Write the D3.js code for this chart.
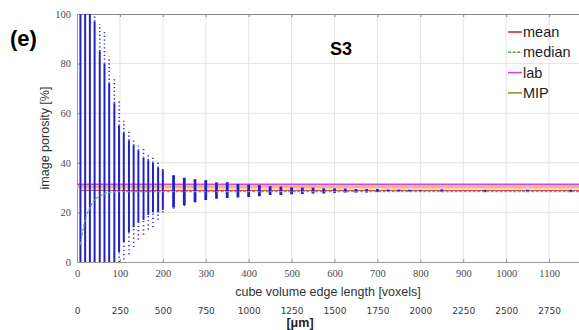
<!DOCTYPE html>
<html lang="en">
<head>
<meta charset="utf-8">
<title>S3 image porosity</title>
<script src="https://d3js.org/d3.v7.min.js"></script>
<style>
  body { margin: 0; background: #fff; }
  svg { display: block; }
</style>
</head>
<body>
<div id="mainDiv"></div>
<script type="text/javascript">
// cube edge sizes (voxels) and the spread of porosity values at each size
const sizes   = [8, 19, 30, 41, 53, 64, 75, 87, 98, 109, 121, 132, 143, 155, 166, 177, 189, 200,
                 225, 250, 275, 300, 325, 350, 375, 400, 425, 450, 475, 500, 525, 550, 575, 600,
                 625, 650, 675, 700, 725, 750, 775, 800, 850, 950, 1050, 1150]
const minVals = [0, 0, 0, 0, 0, 0, 0, 0, 0, 1, 3, 6, 9, 11, 13, 14, 17, 20,
                 21.5, 22.6, 24, 25, 25.5, 25.8, 26, 26.2, 26.5, 27, 27, 27.3, 27.4, 27.6, 27.6, 27.8,
                 28, 28, 28, 28.2, 28.4, 28.4, 28.4, 28.5, 28.6, 28.6, 28.6, 28.6]
const coreLo  = [0, 0, 0, 0, 0, 0, 0, 0, 4, 8, 12, 14, 16, 17, 19, 20, 20, 21,
                 22, 23, 24.2, 25, 25.5, 25.8, 26, 26.2, 26.5, 27, 27, 27.3, 27.4, 27.6, 27.6, 27.8,
                 28, 28, 28, 28.2, 28.4, 28.4, 28.4, 28.5, 28.6, 28.6, 28.6, 28.6]
const coreHi  = [100, 100, 100, 97, 85, 80, 72, 64, 55, 52, 49, 47, 45, 42, 41, 40, 38, 37,
                 35, 34, 33.4, 33, 32.1, 32.2, 31.5, 31.2, 31, 30.6, 30.4, 30.1, 30, 30, 29.7, 29.7,
                 29.6, 29.4, 29.4, 29.4, 29.2, 29.2, 29.1, 29, 28.9, 28.7, 28.7, 28.7]
const maxVals = [100, 100, 100, 100, 96, 93, 82, 74, 65, 57, 53, 50, 48, 46, 44, 42, 41, 38,
                 35, 34, 33.4, 33, 32.1, 32.2, 31.5, 31.2, 31, 30.6, 30.4, 30.1, 30, 30, 29.7, 29.7,
                 29.6, 29.4, 29.4, 29.4, 29.2, 29.2, 29.1, 29, 28.9, 28.7, 28.7, 28.7]

// median of the sub-cubes at each size (rises at small sizes)
const medianSizes = [8, 14, 19, 25, 30, 41, 53, 64, 75, 100, 200, 1172]
const medianVals  = [7, 13, 17, 20, 22, 25, 26.5, 27.5, 28, 28.4, 28.4, 28.4]
const meanVal = 28.9
const labVal  = 31.3
const mipVal  = 30.2

const xTicks  = [0, 100, 200, 300, 400, 500, 600, 700, 800, 900, 1000, 1100]
const umTicks = [0, 250, 500, 750, 1000, 1250, 1500, 1750, 2000, 2250, 2500, 2750]
const yTicks  = [0, 20, 40, 60, 80, 100]

const legendItems = [
    { name: 'mean',   color: '#e0282a', dash: null },
    { name: 'median', color: '#3fae3f', dash: '3,1.5' },
    { name: 'lab',    color: '#e040e0', dash: null },
    { name: 'MIP',    color: '#a88a22', dash: null }
]

const width = 579
const height = 330
const plot = { left: 77, right: 580, top: 14, bottom: 262 }

const svg = d3.select('#mainDiv').append('svg')
    .attr('width', width)
    .attr('height', height)

const xScale = d3.scaleLinear().domain([0, 1172]).range([plot.left, plot.right])
const umScale = d3.scaleLinear().domain([0, 1172 * 2.5]).range([plot.left, plot.right])
const yScale = d3.scaleLinear().domain([0, 100]).range([plot.bottom, plot.top])

// grid
const grid = svg.append('g')
grid.selectAll('.vg').data(xTicks.slice(1)).enter().append('line')
    .attr('x1', d => xScale(d)).attr('x2', d => xScale(d))
    .attr('y1', plot.top).attr('y2', plot.bottom)
    .attr('stroke', '#e4e4e4').attr('stroke-width', 1)
grid.selectAll('.hg').data(yTicks.slice(1, -1)).enter().append('line')
    .attr('x1', plot.left).attr('x2', plot.right)
    .attr('y1', d => yScale(d)).attr('y2', d => yScale(d))
    .attr('stroke', '#e4e4e4').attr('stroke-width', 1)

// axes
const fmt = d3.format('d')
const xAxis = d3.axisBottom(xScale).tickValues(xTicks).tickSize(-3).tickPadding(8).tickFormat(fmt)
const xTop = d3.axisTop(xScale).tickValues(xTicks).tickSize(-3).tickFormat('')
const yAxis = d3.axisLeft(yScale).tickValues(yTicks).tickSize(-3).tickPadding(6).tickFormat(fmt)
const umAxis = d3.axisBottom(umScale).tickValues(umTicks).tickSize(0).tickFormat(fmt)

function styleAxis(g, color) {
    g.select('.domain').attr('stroke', color)
    g.selectAll('.tick line').attr('stroke', color)
    g.selectAll('text')
        .attr('fill', '#4a4a4a')
        .style('font-family', '"Liberation Serif", "DejaVu Serif", serif')
        .style('font-size', '10.5px')
}

svg.append('g').attr('transform', `translate(0, ${plot.bottom})`).call(xAxis).call(g => styleAxis(g, '#999'))
svg.append('g').attr('transform', `translate(0, ${plot.top})`).call(xTop).call(g => styleAxis(g, '#8a8a8a'))
svg.append('g').attr('transform', `translate(${plot.left}, 0)`).call(yAxis).call(g => styleAxis(g, '#999'))

const umG = svg.append('g').attr('transform', `translate(0, 305)`).call(umAxis)
umG.select('.domain').remove()
umG.selectAll('text')
    .attr('fill', '#3a3a3a')
    .style('font-family', '"DejaVu Sans", sans-serif')
    .style('font-size', '9px')

// reference lines (under the bars)
function hline(val, color, w, dash, x0) {
    svg.append('line')
        .attr('x1', xScale(x0)).attr('x2', plot.right)
        .attr('y1', yScale(val)).attr('y2', yScale(val))
        .attr('stroke', color).attr('stroke-width', w)
        .attr('stroke-dasharray', dash)
}
hline(mipVal, '#e8b889', 3, null, 0)
hline(labVal, '#e040e0', 1.6, null, 0)
hline(meanVal, '#d4282a', 1, null, 8)

// bars of sub-cube porosity values
const data = sizes.map((s, i) => ({ s, min: minVals[i], lo: coreLo[i], hi: coreHi[i], max: maxVals[i] }))
const marks = svg.append('g')

marks.selectAll('.outHi').data(data.filter(d => d.max > d.hi)).enter().append('line')
    .attr('x1', d => xScale(d.s)).attr('x2', d => xScale(d.s))
    .attr('y1', d => yScale(d.hi)).attr('y2', d => yScale(d.max))
    .attr('stroke', '#2b2bc8').attr('stroke-width', 1.6)
    .attr('stroke-dasharray', '1.2,2.6')
marks.selectAll('.outLo').data(data.filter(d => d.lo > d.min)).enter().append('line')
    .attr('x1', d => xScale(d.s)).attr('x2', d => xScale(d.s))
    .attr('y1', d => yScale(d.min)).attr('y2', d => yScale(d.lo))
    .attr('stroke', '#2b2bc8').attr('stroke-width', 1.6)
    .attr('stroke-dasharray', '1.2,3')
marks.selectAll('.core').data(data).enter().append('line')
    .attr('x1', d => xScale(d.s)).attr('x2', d => xScale(d.s))
    .attr('y1', d => yScale(d.lo) + (d.hi - d.lo < 0.5 ? 1 : 0))
    .attr('y2', d => yScale(d.hi) - (d.hi - d.lo < 0.5 ? 1 : 0))
    .attr('stroke', '#2222c4')
    .attr('stroke-width', d => d.s <= 200 ? 2 : 2.8)

// median curve on top
const medianLine = d3.line()
    .x((d, i) => xScale(medianSizes[i]))
    .y(d => yScale(d))
    .curve(d3.curveMonotoneX)
svg.append('path')
    .datum(medianVals)
    .attr('d', medianLine)
    .attr('fill', 'none')
    .attr('stroke', '#55b08a')
    .attr('stroke-width', 1.3)
    .attr('stroke-dasharray', '3,1.5')

// legend
const legend = svg.append('g').attr('transform', 'translate(508, 32)')
legendItems.forEach((d, i) => {
    const row = legend.append('g').attr('transform', `translate(0, ${i * 20.3})`)
    row.append('line')
        .attr('x1', 0).attr('x2', 14).attr('y1', 0).attr('y2', 0)
        .attr('stroke', d.color).attr('stroke-width', 1.6)
        .attr('stroke-dasharray', d.dash)
    row.append('text')
        .attr('x', 15).attr('y', 5)
        .text(d.name)
        .style('font-family', '"Liberation Sans", Arial, sans-serif')
        .style('font-size', '14.5px')
        .attr('fill', '#222')
})

// titles
svg.append('text')
    .attr('x', 328).attr('y', 296)
    .attr('text-anchor', 'middle')
    .text('cube volume edge length [voxels]')
    .style('font-family', '"Liberation Sans", Arial, sans-serif')
    .style('font-size', '12.5px')
    .attr('fill', '#333')

svg.append('text')
    .attr('transform', 'translate(49, 138) rotate(-90)')
    .attr('text-anchor', 'middle')
    .text('image porosity [%]')
    .style('font-family', '"Liberation Sans", Arial, sans-serif')
    .style('font-size', '12.5px')
    .attr('fill', '#333')

svg.append('text')
    .attr('x', 300).attr('y', 327)
    .attr('text-anchor', 'middle')
    .text('[μm]')
    .style('font-family', '"Liberation Sans", Arial, sans-serif')
    .style('font-size', '12.5px')
    .style('font-weight', 'bold')
    .attr('fill', '#222')

svg.append('text')
    .attr('x', 10).attr('y', 46)
    .text('(e)')
    .style('font-family', '"Liberation Sans", Arial, sans-serif')
    .style('font-size', '22px')
    .style('font-weight', 'bold')
    .attr('fill', '#000')

svg.append('text')
    .attr('x', 330).attr('y', 55)
    .text('S3')
    .style('font-family', '"Liberation Sans", Arial, sans-serif')
    .style('font-size', '18px')
    .style('font-weight', 'bold')
    .attr('fill', '#000')
</script>
</body>
</html>
